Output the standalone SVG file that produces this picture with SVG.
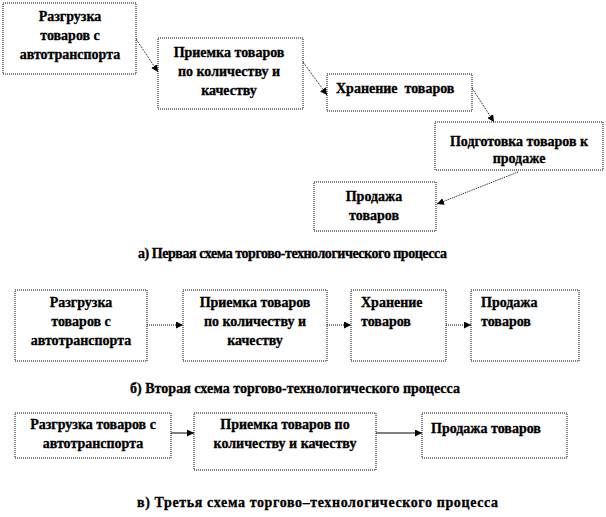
<svg xmlns="http://www.w3.org/2000/svg" width="606" height="517" viewBox="0 0 606 517">
<style>
.box{fill:#fff;stroke:#000;stroke-width:1;stroke-dasharray:1 1}
text{font-family:'Liberation Serif','Times New Roman',serif;font-weight:bold;font-size:14px;fill:#000;stroke:#000;stroke-width:0.3}
.c{text-anchor:middle}
.dot{fill:none;stroke:#000;stroke-width:1;stroke-dasharray:1 1}
.sol{fill:none;stroke:#000;stroke-width:1}
</style>
<defs>
<marker id="ah" viewBox="0 0 10 10" refX="10" refY="5" markerWidth="7" markerHeight="7" markerUnits="userSpaceOnUse" orient="auto">
<path d="M0,0 L10,5 L0,10 z" fill="#000"/>
</marker>
</defs>
<rect width="606" height="517" fill="#fff"/>

<g id="connectors">
<line class="dot" x1="136" y1="39" x2="158" y2="72" marker-end="url(#ah)"/>
<line class="dot" x1="303" y1="62" x2="327" y2="95" marker-end="url(#ah)"/>
<line class="dot" x1="472" y1="88" x2="494" y2="122" marker-end="url(#ah)"/>
<line class="dot" x1="518" y1="172" x2="437" y2="204" marker-end="url(#ah)"/>
<line class="dot" x1="147" y1="325" x2="183" y2="325" marker-end="url(#ah)"/>
<line class="dot" x1="327" y1="325" x2="351" y2="325" marker-end="url(#ah)"/>
<line class="dot" x1="446" y1="325" x2="471" y2="325" marker-end="url(#ah)"/>
<line class="sol" x1="171" y1="433" x2="194" y2="433" marker-end="url(#ah)"/>
<line class="sol" x1="376" y1="433" x2="422" y2="433" marker-end="url(#ah)"/>
</g>

<g id="a1"><rect class="box" x="3" y="3" width="133" height="71"/>
<text class="c" x="70" y="21">Разгрузка</text><text class="c" x="70" y="40">товаров с</text><text class="c" x="70" y="59">автотранспорта</text></g>
<g id="a2"><rect class="box" x="158" y="38" width="145" height="71"/>
<text class="c" x="229" y="57">Приемка товаров</text><text class="c" x="229" y="76">по количеству и</text><text class="c" x="229" y="95">качеству</text></g>
<g id="a3"><rect class="box" x="327" y="74" width="145" height="37"/>
<text x="336" y="93" xml:space="preserve">Хранение  товаров</text></g>
<g id="a4"><rect class="box" x="435" y="122" width="168" height="48"/>
<text class="c" x="519" y="146">Подготовка товаров к</text><text class="c" x="519" y="163">продаже</text></g>
<g id="a5"><rect class="box" x="314" y="182" width="122" height="49"/>
<text class="c" x="374" y="201">Продажа</text><text class="c" x="374" y="220">товаров</text></g>
<text id="cap-a" x="138" y="258" textLength="309" lengthAdjust="spacing">а) Первая схема торгово-технологического процесса</text>

<g id="b1"><rect class="box" x="15" y="290" width="132" height="71"/>
<text class="c" x="81" y="307">Разгрузка</text><text class="c" x="81" y="326">товаров с</text><text class="c" x="81" y="345">автотранспорта</text></g>
<g id="b2"><rect class="box" x="183" y="290" width="144" height="71"/>
<text class="c" x="255" y="307">Приемка товаров</text><text class="c" x="255" y="326">по количеству и</text><text class="c" x="255" y="345">качеству</text></g>
<g id="b3"><rect class="box" x="351" y="290" width="95" height="71"/>
<text x="361" y="307">Хранение</text><text x="361" y="326">товаров</text></g>
<g id="b4"><rect class="box" x="471" y="290" width="108" height="71"/>
<text x="481" y="307">Продажа</text><text x="481" y="326">товаров</text></g>
<text id="cap-b" x="130" y="393" textLength="330" lengthAdjust="spacing">б) Вторая схема торгово-технологического процесса</text>

<g id="c1"><rect class="box" x="15" y="413" width="156" height="45"/>
<text class="c" x="93" y="429">Разгрузка товаров с</text><text class="c" x="93" y="448">автотранспорта</text></g>
<g id="c2"><rect class="box" x="194" y="413" width="182" height="57"/>
<text class="c" x="285" y="429">Приемка товаров по</text><text class="c" x="285" y="448">количеству и качеству</text></g>
<g id="c3"><rect class="box" x="422" y="413" width="145" height="45"/>
<text x="431" y="433">Продажа товаров</text></g>
<text id="cap-c" x="137" y="507" textLength="361" lengthAdjust="spacing">в) Третья схема торгово–технологического процесса</text>
</svg>
